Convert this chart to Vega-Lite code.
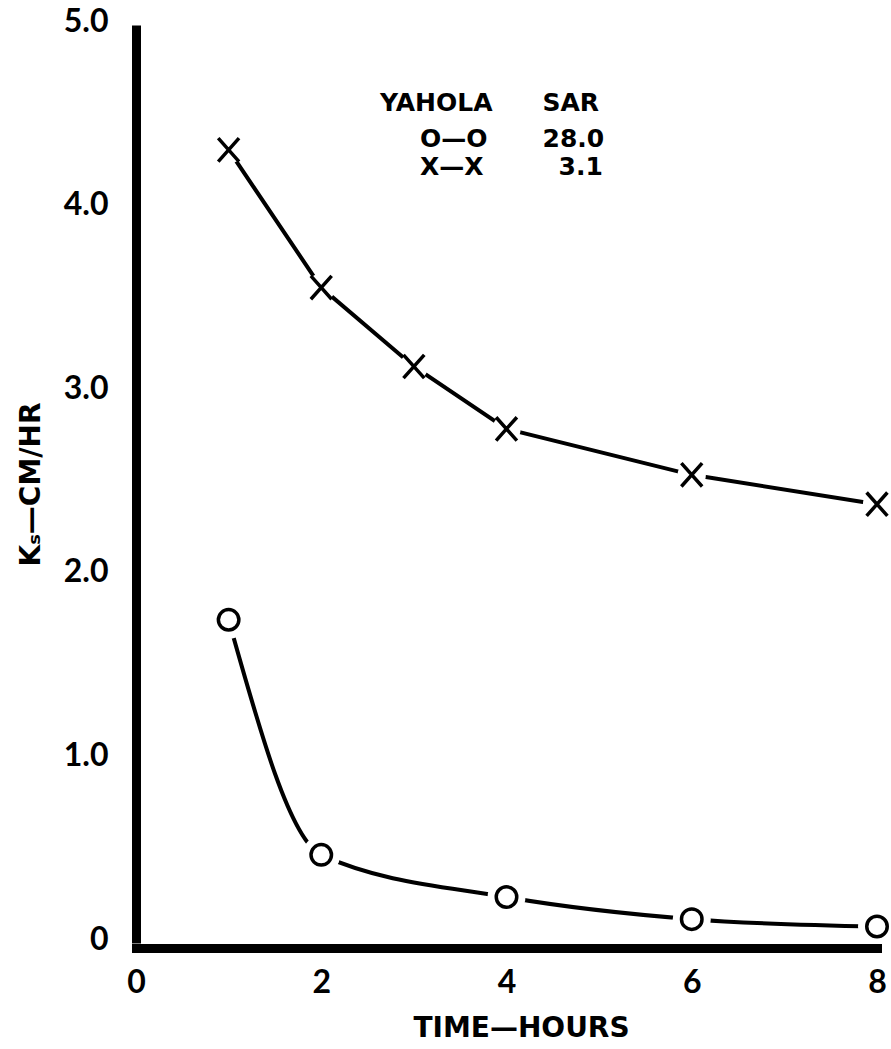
{
  "$schema": "https://vega.github.io/schema/vega-lite/v6.json",
  "width": 741,
  "height": 918,
  "autosize": {"type": "none"},
  "padding": {"left": 136, "top": 25, "right": 14, "bottom": 106},
  "background": "white",
  "config": {"view": {"stroke": null}, "font": "Lato"},
  "data": {
    "values": [
      {"sar": "28.0", "hours": 1, "ks": 1.76},
      {"sar": "28.0", "hours": 2, "ks": 0.48},
      {"sar": "28.0", "hours": 4, "ks": 0.25},
      {"sar": "28.0", "hours": 6, "ks": 0.13},
      {"sar": "28.0", "hours": 8, "ks": 0.09},
      {"sar": "3.1", "hours": 1, "ks": 4.32},
      {"sar": "3.1", "hours": 2, "ks": 3.57},
      {"sar": "3.1", "hours": 3, "ks": 3.14},
      {"sar": "3.1", "hours": 4, "ks": 2.8},
      {"sar": "3.1", "hours": 6, "ks": 2.55},
      {"sar": "3.1", "hours": 8, "ks": 2.39}
    ]
  },
  "encoding": {
    "x": {
      "field": "hours",
      "type": "quantitative",
      "scale": {"domain": [0, 8], "nice": false},
      "axis": {
        "values": [0, 2, 4, 6, 8],
        "title": "TIME\u2014HOURS",
        "grid": false,
        "ticks": false,
        "tickSize": 0,
        "domainColor": "black",
        "domainWidth": 9,
        "domainCap": "square",
        "offset": 5,
        "labelFlush": false,
        "labelFont": "Lato",
        "labelFontSize": 32,
        "labelFontWeight": "bold",
        "labelColor": "black",
        "labelPadding": 19,
        "titleFont": "DejaVu Sans",
        "titleFontSize": 28,
        "titleFontWeight": "bold",
        "titleColor": "black",
        "titleX": 385,
        "titleY": 88,
        "titleBaseline": "alphabetic",
        "zindex": 1
      }
    },
    "y": {
      "field": "ks",
      "type": "quantitative",
      "scale": {"domain": [0, 5], "nice": false, "zero": false},
      "axis": {
        "values": [0, 1, 2, 3, 4, 5],
        "labelExpr": "datum.value === 0 ? '0' : format(datum.value, '.1f')",
        "title": "K\u209B\u2014CM/HR",
        "grid": false,
        "ticks": false,
        "tickSize": 0,
        "domainColor": "black",
        "domainWidth": 9,
        "labelFont": "Lato",
        "labelFontSize": 32,
        "labelFontWeight": "bold",
        "labelColor": "black",
        "labelPadding": 28,
        "labelOffset": -4,
        "titleFont": "DejaVu Sans",
        "titleFontSize": 28,
        "titleFontWeight": "bold",
        "titleColor": "black",
        "titleX": -105,
        "titleBaseline": "middle",
        "zindex": 1
      }
    }
  },
  "layer": [
    {
      "transform": [{"filter": "datum.sar === '28.0'"}],
      "mark": {"type": "line", "interpolate": "monotone", "strokeWidth": 4},
      "encoding": {
        "color": {
          "field": "sar",
          "type": "nominal",
          "scale": {"domain": ["28.0", "3.1"], "range": ["black", "black"]},
          "legend": {
            "orient": "none",
            "legendX": 244,
            "legendY": 66,
            "padding": 0,
            "title": "YAHOLA\u2003\u2003SAR",
            "titleFont": "DejaVu Sans",
            "titleFontSize": 25,
            "titleFontWeight": "bold",
            "titleColor": "black",
            "titlePadding": 10,
            "titleLimit": 400,
            "labelFont": "DejaVu Sans",
            "labelFontSize": 25,
            "labelFontWeight": "bold",
            "labelColor": "black",
            "labelLimit": 400,
            "labelOffset": 15,
            "rowPadding": 2,
            "symbolType": "circle",
            "symbolSize": 100,
            "symbolOpacity": 0,
            "symbolStrokeWidth": 0,
            "labelExpr": "datum.label === '28.0' ? 'O\u2014O\u2003\u2003\u200928.0' : 'X\u2014X\u2003\u2003\u20033.1'"
          }
        }
      }
    },
    {
      "transform": [{"filter": "datum.sar === '3.1'"}],
      "mark": {"type": "line", "strokeWidth": 4},
      "encoding": {
        "color": {
          "field": "sar",
          "type": "nominal",
          "scale": {"domain": ["28.0", "3.1"], "range": ["black", "black"]}
        }
      }
    },
    {
      "transform": [{"filter": "datum.sar === '28.0'"}],
      "mark": {"type": "point", "shape": "circle", "filled": true, "fill": "white", "strokeWidth": 0, "opacity": 1, "size": 1444}
    },
    {
      "transform": [{"filter": "datum.sar === '3.1'"}],
      "mark": {"type": "point", "shape": "circle", "filled": true, "fill": "white", "strokeWidth": 0, "opacity": 1, "size": 800}
    },
    {
      "transform": [{"filter": "datum.sar === '28.0'"}],
      "mark": {"type": "point", "shape": "circle", "filled": false, "stroke": "black", "strokeWidth": 3.5, "opacity": 1, "size": 420}
    },
    {
      "transform": [{"filter": "datum.sar === '3.1'"}],
      "mark": {"type": "point", "shape": "M-0.8,-0.9L0.8,0.9M0.8,-0.9L-0.8,0.9", "filled": false, "stroke": "black", "strokeWidth": 3.5, "opacity": 1, "size": 676}
    }
  ]
}
